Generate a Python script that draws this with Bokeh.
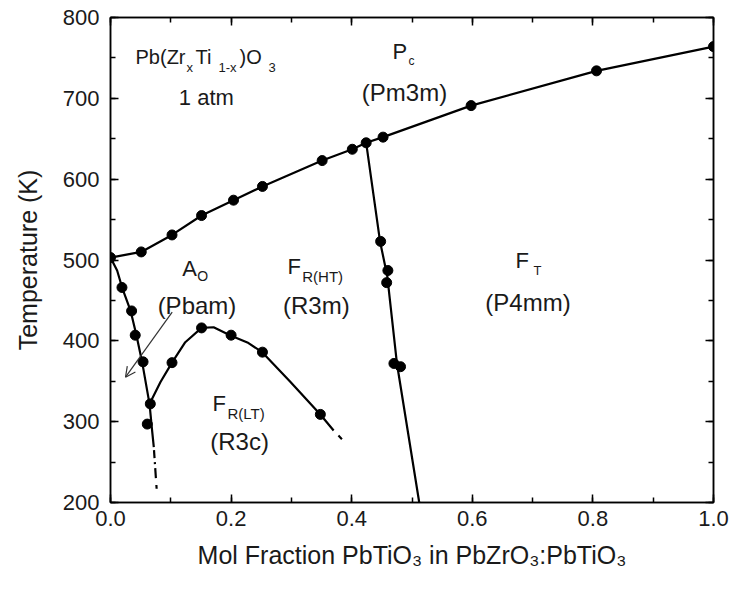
from bokeh.plotting import figure
from bokeh.models import (LinearAxis, SingleIntervalTicker, PrintfTickFormatter,
                          Label, Arrow, OpenHead, Range1d)
from bokeh.embed import file_html
from bokeh.resources import INLINE

# ---- data ----
# cubic -> ferroelectric / antiferroelectric transition (markers)
pc_x = [0.0, 0.051, 0.102, 0.151, 0.204, 0.252, 0.351, 0.401, 0.424, 0.452, 0.598, 0.806, 1.0]
pc_T = [503, 510, 531, 555, 574, 591, 623, 637, 645, 652, 691, 734, 764]

# antiferroelectric A_O boundary (markers)
ao_x = [0.019, 0.035, 0.041, 0.054, 0.066, 0.061]
ao_T = [466, 437, 407, 374, 322, 297]

# F_R(HT) / F_R(LT) boundary (markers)
fr_x = [0.102, 0.151, 0.200, 0.252, 0.348]
fr_T = [373, 416, 407, 386, 309]

# morphotropic boundary F_R / F_T (markers)
mpb_x = [0.448, 0.460, 0.458, 0.470, 0.481]
mpb_T = [523, 487, 472, 372, 368]

# boundary curves (vertices)
pc_line_x = pc_x
pc_line_T = pc_T
ao_line_x = [0.0, 0.011, 0.0194, 0.0332, 0.0431, 0.0525, 0.0647, 0.069, 0.0718]
ao_line_T = [503, 487, 465.6, 437.5, 406.6, 373.6, 322, 289, 268.5]
ao_tail_x = [0.0718, 0.0765]
ao_tail_T = [268.5, 217]
fr_line_x = [0.0647, 0.0829, 0.102, 0.124, 0.151, 0.171, 0.199, 0.227, 0.2516, 0.2985, 0.348, 0.370]
fr_line_T = [322, 349, 373, 398.3, 416, 416.8, 406.6, 398, 386, 349, 308.8, 289]
fr_tail_x = [0.370, 0.388]
fr_tail_T = [289, 275]
mpb_line_x = [0.424, 0.447, 0.459, 0.475, 0.512]
mpb_line_T = [645, 523, 480, 372, 200]

x_title = "Mol Fraction PbTiO\u2083 in PbZrO\u2083:PbTiO\u2083"
y_title = "Temperature (K)"

FONT = "Liberation Sans"
INK = "#1a1a1a"

p = figure(width=729, height=590, x_range=Range1d(0, 1), y_range=Range1d(200, 800),
           output_backend="svg", toolbar_location=None,
           min_border_left=110, min_border_right=16, min_border_top=17, min_border_bottom=88)
p.grid.visible = False
p.outline_line_color = "black"
p.outline_line_width = 1.5
p.background_fill_color = "white"
p.border_fill_color = "white"

xt = SingleIntervalTicker(interval=0.2, num_minor_ticks=2)
yt = SingleIntervalTicker(interval=100, num_minor_ticks=2)


def style(ax, labels=True):
    ax.axis_line_width = 1.5
    ax.axis_line_color = "black"
    ax.major_tick_in = 8
    ax.major_tick_out = 0
    ax.minor_tick_in = 5
    ax.minor_tick_out = 0
    ax.major_tick_line_width = 1.5
    ax.minor_tick_line_width = 1.5
    ax.major_tick_line_color = "black"
    ax.minor_tick_line_color = "black"
    ax.major_label_text_font = FONT
    if labels:
        ax.major_label_text_color = INK
        ax.major_label_text_font_size = "22px"
    else:
        # mirror axes: ticks only, no labels drawn
        ax.major_label_text_color = None
        ax.major_label_text_font_size = "0px"
        ax.major_label_standoff = 0


p.xaxis.ticker = xt
p.yaxis.ticker = yt
p.xaxis.formatter = PrintfTickFormatter(format="%.1f")
style(p.xaxis[0])
style(p.yaxis[0])
p.xaxis.major_label_standoff = 8
p.yaxis.major_label_standoff = 11
p.xaxis.axis_label = x_title
p.yaxis.axis_label = y_title
for ax in (p.xaxis[0], p.yaxis[0]):
    ax.axis_label_text_font = FONT
    ax.axis_label_text_font_size = "25px"
    ax.axis_label_text_font_style = "normal"
    ax.axis_label_text_color = INK
p.xaxis.axis_label_standoff = 12
p.yaxis.axis_label_standoff = 18

top = LinearAxis(ticker=SingleIntervalTicker(interval=0.2, num_minor_ticks=2))
right = LinearAxis(ticker=SingleIntervalTicker(interval=100, num_minor_ticks=2))
style(top, labels=False)
style(right, labels=False)
p.add_layout(top, "above")
p.add_layout(right, "right")

LW = 2.2
p.line(pc_line_x, pc_line_T, line_color="black", line_width=LW)
p.line(ao_line_x, ao_line_T, line_color="black", line_width=LW)
p.line(ao_tail_x, ao_tail_T, line_color="black", line_width=LW, line_dash="0 3 8 4 2 4 10 4")
p.line(fr_line_x, fr_line_T, line_color="black", line_width=LW)
p.line(fr_tail_x, fr_tail_T, line_color="black", line_width=LW, line_dash="0 7 5 10")
p.line(mpb_line_x, mpb_line_T, line_color="black", line_width=LW)

MS = 10
for xs, ts in ((pc_x, pc_T), (ao_x, ao_T), (fr_x, fr_T), (mpb_x, mpb_T)):
    p.scatter(xs, ts, marker="circle", size=MS, fill_color="black", line_color="black")

p.add_layout(Arrow(end=OpenHead(size=10, line_width=1.2, line_color="#333333"),
                   x_start=0.1023, y_start=435.4, x_end=0.0249, y_end=355.0,
                   line_width=1.2, line_color="#333333"))

annotations = [
    ("Pb(Zr", 0.0415, 751.7, 20, "left"),
    ("x", 0.126, 738.1, 13, "left"),
    ("Ti", 0.141, 751.7, 20, "left"),
    ("1-x", 0.179, 738.1, 13, "left"),
    (")O", 0.214, 751.7, 20, "left"),
    ("3", 0.262, 738.1, 13, "left"),
    ("1 atm", 0.159, 701.0, 22, "center"),
    ("P", 0.480, 757.9, 22, "center"),
    ("c", 0.494, 746.8, 12, "left"),
    ("(Pm3m)", 0.4876, 707.2, 24, "center"),
    ("A", 0.119, 489.5, 22, "left"),
    ("O", 0.144, 480.8, 14, "left"),
    ("(Pbam)", 0.1434, 443.5, 24, "center"),
    ("F", 0.2935, 492.5, 22, "left"),
    ("R(HT)", 0.318, 480.2, 15, "left"),
    ("(R3m)", 0.3413, 443.5, 24, "center"),
    ("F", 0.169, 322.5, 22, "left"),
    ("R(LT)", 0.194, 310.1, 15, "left"),
    ("(R3c)", 0.214, 275.2, 24, "center"),
    ("F", 0.6716, 499.4, 22, "left"),
    ("T", 0.7015, 487.0, 13, "left"),
    ("(P4mm)", 0.6924, 447.4, 24, "center"),
]
for txt, ax_, ay_, fs, al in annotations:
    p.add_layout(Label(x=ax_, y=ay_, text=txt, text_font=FONT, text_font_size=f"{fs}px",
                       text_align=al, text_baseline="alphabetic", text_color=INK))

open("out.html", "w").write(file_html(p, INLINE))
